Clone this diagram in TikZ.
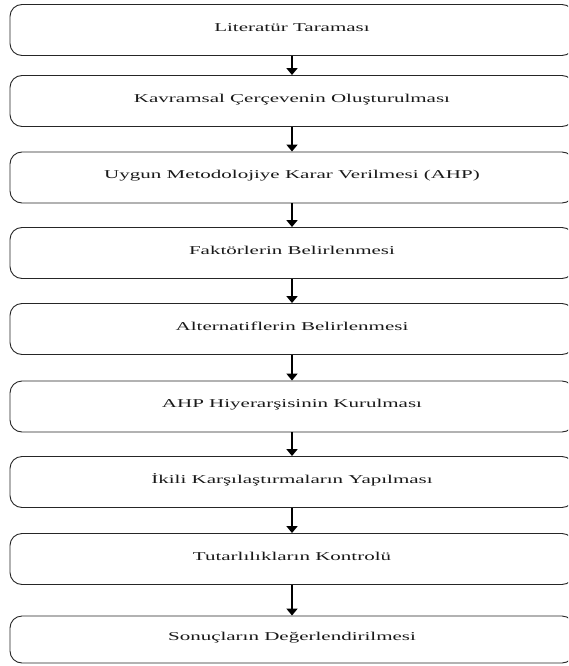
\documentclass[tikz,border=0pt]{standalone}
\usepackage{fontspec}
\setmainfont{Liberation Serif}
\newfontfamily\stepfont[FakeStretch=1.75]{Liberation Serif}
\usetikzlibrary{arrows.meta}
\tikzset{
  x=1pt, y=-1pt,
  stepbox/.style={draw=black!85, line width=0.9pt, rounded corners=12pt,
    minimum width=564pt, minimum height=51pt, inner sep=0pt,
    text height=8pt, text depth=5.4pt, text=black!90,
    font=\stepfont\fontsize{12pt}{14pt}\selectfont},
  flow/.style={line width=1.8pt, -{Triangle[width=11pt,length=7pt]}}
}
\begin{document}
\begin{tikzpicture}
\useasboundingbox (0,0) rectangle (568,666);
\clip (0,0) rectangle (568,666);
\node[stepbox] (s1) at (292,30) {Literatür Taraması};
\node[stepbox] (s2) at (292,101) {Kavramsal Çerçevenin Oluşturulması};
\node[stepbox] (s3) at (292,177.5) {Uygun Metodolojiye Karar Verilmesi (AHP)};
\node[stepbox] (s4) at (292,253) {Faktörlerin Belirlenmesi};
\node[stepbox] (s5) at (292,329) {Alternatiflerin Belirlenmesi};
\node[stepbox] (s6) at (292,406.5) {AHP Hiyerarşisinin Kurulması};
\node[stepbox] (s7) at (292,482) {İkili Karşılaştırmaların Yapılması};
\node[stepbox] (s8) at (292,559) {Tutarlılıkların Kontrolü};
\node[stepbox, minimum height=47pt] (s9) at (292,639.5) {Sonuçların Değerlendirilmesi};
\foreach \a/\b in {s1/s2,s2/s3,s3/s4,s4/s5,s5/s6,s6/s7,s7/s8,s8/s9}
  \draw[flow] (\a.south) -- (\b.north);
\end{tikzpicture}
\end{document}
